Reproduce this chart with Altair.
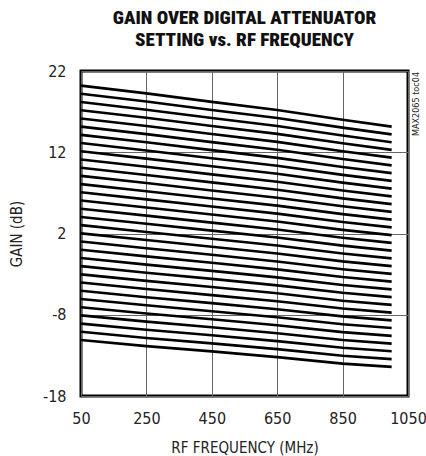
import altair as alt
import pandas as pd

FREQ = [50, 250, 450, 650, 850, 1000]
# gain (dB) for each attenuator setting (0..31 dB), one list per frequency
G50 = [20.2, 19.19, 18.18, 17.17, 16.16, 15.15, 14.14, 13.13, 12.12, 11.11, 10.10, 9.09, 8.08, 7.07, 6.06, 5.05,
       4.04, 3.03, 2.02, 1.01, 0.0, -1.01, -2.02, -3.03, -4.04, -5.05, -6.06, -7.07, -8.08, -9.09, -10.10, -11.11]
G250 = [19.25, 18.25, 17.24, 16.24, 15.24, 14.23, 13.23, 12.22, 11.22, 10.22, 9.21, 8.21, 7.21, 6.2, 5.2, 4.2,
        3.19, 2.19, 1.19, 0.18, -0.82, -1.83, -2.83, -3.83, -4.84, -5.84, -6.84, -7.85, -8.85, -9.85, -10.86, -11.86]
G450 = [18.2, 17.21, 16.22, 15.23, 14.24, 13.25, 12.26, 11.27, 10.27, 9.28, 8.29, 7.3, 6.31, 5.32, 4.33, 3.34,
        2.35, 1.36, 0.37, -0.62, -1.61, -2.6, -3.59, -4.58, -5.58, -6.57, -7.56, -8.55, -9.54, -10.53, -11.52, -12.51]
G650 = [17.2, 16.22, 15.24, 14.26, 13.28, 12.3, 11.31, 10.33, 9.35, 8.37, 7.39, 6.41, 5.43, 4.45, 3.47, 2.49,
        1.5, 0.52, -0.46, -1.44, -2.42, -3.4, -4.38, -5.36, -6.34, -7.32, -8.31, -9.29, -10.27, -11.25, -12.23, -13.21]
G850 = [16.0, 15.03, 14.06, 13.1, 12.13, 11.16, 10.19, 9.22, 8.26, 7.29, 6.32, 5.35, 4.38, 3.41, 2.45, 1.48,
        0.51, -0.46, -1.43, -2.39, -3.36, -4.33, -5.3, -6.27, -7.23, -8.2, -9.17, -10.14, -11.11, -12.07, -13.04, -14.01]
G1000 = [15.15, 14.2, 13.24, 12.29, 11.34, 10.38, 9.43, 8.48, 7.52, 6.57, 5.62, 4.66, 3.71, 2.75, 1.8, 0.85,
         -0.11, -1.06, -2.01, -2.97, -3.92, -4.88, -5.83, -6.78, -7.74, -8.69, -9.64, -10.6, -11.55, -12.5, -13.46, -14.41]

X_TICKS = [50, 250, 450, 650, 850, 1050]
Y_TICKS = [-18, -8, 2, 12, 22]

cols = [G50, G250, G450, G650, G850, G1000]
rows = []
for s in range(len(G50)):
    for f, col in zip(FREQ, cols):
        rows.append({"setting": s, "freq": f, "gain": col[s]})
df = pd.DataFrame(rows)

FONT = "Liberation Sans Narrow, DejaVu Sans Condensed, Roboto, sans-serif"
TFONT = "Roboto Condensed, DejaVu Sans Condensed, Roboto, sans-serif"

lines = alt.Chart(df).mark_line(color="black", strokeWidth=2.6).encode(
    x=alt.X("freq:Q", scale=alt.Scale(domain=[50, 1050], nice=False, zero=False),
            axis=alt.Axis(values=X_TICKS, title="RF FREQUENCY (MHz)", titlePadding=14,
                          labelFlush=False, labelExpr="'' + datum.value")),
    y=alt.Y("gain:Q", scale=alt.Scale(domain=[-18, 22], nice=False, zero=False),
            axis=alt.Axis(values=Y_TICKS, title="GAIN (dB)", titlePadding=18,
                          labelFlush=False, labelExpr="'' + datum.value")),
    detail="setting:N",
)

note = alt.Chart(pd.DataFrame({"t": ["MAX2065 toc04"]})).mark_text(
    angle=270, align="center", baseline="middle", fontSize=9, font=FONT, color="#222"
).encode(x=alt.value(335), y=alt.value(33), text="t:N")

chart = alt.layer(lines, note).properties(
    width=327, height=325,
    title=alt.Title(["GAIN OVER DIGITAL ATTENUATOR", "SETTING vs. RF FREQUENCY"],
                    font=TFONT, fontSize=19, fontWeight=900, lineHeight=22,
                    anchor="middle", offset=13, color="#111"),
    autosize=alt.AutoSizeParams(type="none"),
    padding={"left": 81, "top": 71, "right": 18, "bottom": 60},
).configure_view(stroke="black", strokeWidth=3).configure_axis(
    domain=False, ticks=False, grid=True, gridColor="#666", gridWidth=1,
    labelFont=FONT, labelFontSize=16, labelColor="#222", labelPadding=14,
    titleFont=FONT, titleFontSize=15, titleFontWeight="normal", titleColor="#222",
).configure_axisY(labelPadding=15)

chart.save("out.html", embed_options={"renderer": "svg", "actions": False})
